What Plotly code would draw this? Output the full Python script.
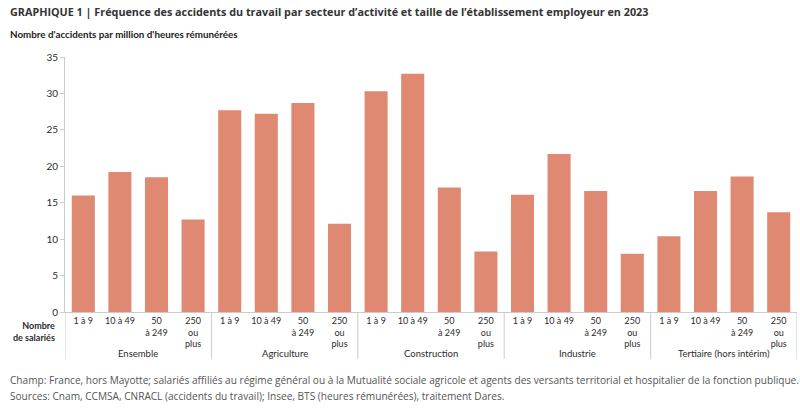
import plotly.graph_objects as go

sectors = ["Ensemble", "Agriculture", "Construction", "Industrie", "Tertiaire (hors intérim)"]
sizes = ["1 à 9", "10 à 49", "50<br>à 249", "250<br>ou<br>plus"]
ensemble = [16.0, 19.2, 18.5, 12.7]
agriculture = [27.7, 27.2, 28.7, 12.1]
construction = [30.3, 32.7, 17.1, 8.3]
industrie = [16.1, 21.7, 16.6, 8.0]
tertiaire = [10.4, 16.6, 18.6, 13.7]
yticks = [0, 5, 10, 15, 20, 25, 30, 35]

series = [ensemble, agriculture, construction, industrie, tertiaire]
values = [v for s in series for v in s]
xpos = list(range(len(values)))
ticktext = sizes * len(sectors)

BAR = "#DF8973"
GRID = "#C9CBD3"
TXT = "#2b2b2b"
FONT = "Lato, Open Sans, sans-serif"
WIDE = "Open Sans, sans-serif"

fig = go.Figure(go.Bar(x=xpos, y=values, marker=dict(color=BAR, line=dict(width=0)),
                       hoverinfo="y"))

L, T, W = 65, 57, 800 - 65 - 3
H = 255.0
shapes = []
annotations = []
n = len(sizes)
for i, sec in enumerate(sectors):
    annotations.append(dict(x=i * n + (n - 1) / 2, xref="x", y=(312 - 353) / H, yref="paper",
                            text=sec, showarrow=False, font=dict(size=9.5, color=TXT, family=FONT),
                            yanchor="middle", xanchor="center"))
for b in range(len(sectors) + 1):
    shapes.append(dict(type="line", xref="x", yref="paper", x0=b * n - 0.5, x1=b * n - 0.5,
                       y0=0, y1=(312 - 359) / H, line=dict(color=GRID, width=1)))

fig.update_layout(
    width=800, height=408,
    margin=dict(l=65, r=3, t=57, b=96),
    paper_bgcolor="white", plot_bgcolor="white",
    showlegend=False,
    bargap=0.37,
    font=dict(family=FONT, color=TXT, size=9.5),
    xaxis=dict(range=[-0.5, len(values) - 0.5], tickmode="array", tickvals=xpos, ticktext=ticktext,
               showline=True, linecolor=GRID, linewidth=1, ticks="", showgrid=False, zeroline=False,
               tickfont=dict(size=9, color=TXT), fixedrange=True),
    yaxis=dict(range=[0, 35], tickmode="array", tickvals=yticks, showline=True, linecolor=GRID,
               linewidth=1, ticks="outside", ticklen=4, tickcolor=GRID, showgrid=False,
               zeroline=False, tickfont=dict(size=10, color=TXT), fixedrange=True),
    shapes=shapes,
)

def fig_ann(text, x, y, size, color=TXT, bold=False, xanchor="left", align="left", family=FONT):
    t = f"<b>{text}</b>" if bold else text
    return dict(x=(x - L) / W, y=(312 - y) / H, xref="paper", yref="paper", text=t, showarrow=False,
                xanchor=xanchor, yanchor="middle", align=align,
                font=dict(size=size, color=color, family=family))

annotations.append(fig_ann("GRAPHIQUE 1 | Fréquence des accidents du travail par secteur d’activité et taille de l’établissement employeur en 2023",
                           8, 12, 10.8, color="#333333", bold=True, family=WIDE))
annotations.append(fig_ann("Nombre d'accidents par million d'heures rémunérées", 8, 34, 9.8, color="#222222", bold=True))
annotations.append(fig_ann("Nombre<br>de salariés", 57, 331, 9, bold=True, xanchor="right", align="right"))
annotations.append(fig_ann("Champ: France, hors Mayotte; salariés affiliés au régime général ou à la Mutualité sociale agricole et agents des versants territorial et hospitalier de la fonction publique.",
                           8, 380, 10.1, color="#555555", family=WIDE))
annotations.append(fig_ann("Sources: Cnam, CCMSA, CNRACL (accidents du travail); Insee, BTS (heures rémunérées), traitement Dares.",
                           8, 396, 10.1, color="#555555", family=WIDE))
fig.update_layout(annotations=annotations)

fig.write_html("out.html")
